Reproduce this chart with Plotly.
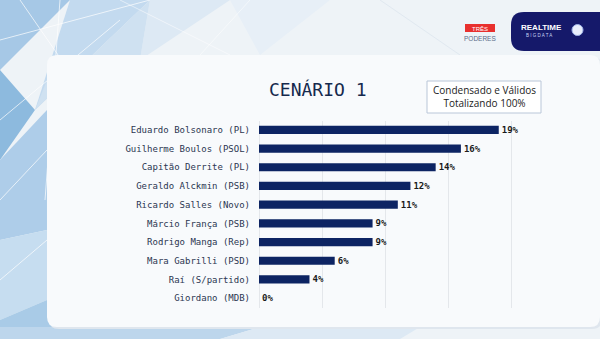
import plotly.graph_objects as go

# Poll results (Cenário 1), condensed, valid votes totalling 100%
candidates = [
    "Eduardo Bolsonaro (PL)",
    "Guilherme Boulos (PSOL)",
    "Capitão Derrite (PL)",
    "Geraldo Alckmin (PSB)",
    "Ricardo Salles (Novo)",
    "Márcio França (PSB)",
    "Rodrigo Manga (Rep)",
    "Mara Gabrilli (PSD)",
    "Raí (S/partido)",
    "Giordano (MDB)",
]
percent = [19, 16, 14, 12, 11, 9, 9, 6, 4, 0]

W, H = 600, 339
NAVY = "#0d2463"
MONO = "DejaVu Sans Mono"


def px(x):
    return x / W


def py(y):
    return 1 - y / H


def poly(points, fill, opacity=1.0):
    d = "M " + " L ".join(f"{px(x):.4f},{py(y):.4f}" for x, y in points) + " Z"
    return dict(type="path", xref="paper", yref="paper", path=d,
                fillcolor=fill, line=dict(width=0), opacity=opacity, layer="below")


def line(x0, y0, x1, y1, color="white", width=1, opacity=0.7):
    return dict(type="line", xref="paper", yref="paper",
                x0=px(x0), y0=py(y0), x1=px(x1), y1=py(y1),
                line=dict(color=color, width=width), opacity=opacity, layer="below")


def rounded_rect(x0, y0, x1, y1, r, fill, corners=(1, 1, 1, 1), line_color=None):
    # corners: top-left, top-right, bottom-right, bottom-left
    tl, tr, br, bl = [r * c for c in corners]
    rx = lambda v: v / W
    ry = lambda v: v / H
    X0, X1 = px(x0), px(x1)
    Y0, Y1 = py(y0), py(y1)  # Y0 is top (larger)
    d = (
        f"M {X0 + rx(tl)},{Y0} L {X1 - rx(tr)},{Y0} Q {X1},{Y0} {X1},{Y0 - ry(tr)} "
        f"L {X1},{Y1 + ry(br)} Q {X1},{Y1} {X1 - rx(br)},{Y1} "
        f"L {X0 + rx(bl)},{Y1} Q {X0},{Y1} {X0},{Y1 + ry(bl)} "
        f"L {X0},{Y0 - ry(tl)} Q {X0},{Y0} {X0 + rx(tl)},{Y0} Z"
    )
    return dict(type="path", xref="paper", yref="paper", path=d, fillcolor=fill,
                line=dict(width=1 if line_color else 0, color=line_color or fill),
                layer="below")


shapes = []
# faceted blue backdrop on the left
shapes += [
    poly([(0, 0), (70, 0), (0, 70)], "#a6c8e6"),
    poly([(70, 0), (150, 0), (35, 110)], "#c3daef"),
    poly([(150, 0), (230, 0), (140, 60)], "#dde9f4"),
    poly([(230, 0), (330, 0), (260, 55)], "#e7eff7"),
    poly([(0, 70), (35, 110), (0, 160)], "#8dbade"),
    poly([(35, 110), (150, 0), (140, 60), (47, 80)], "#cfe1f1"),
    poly([(0, 160), (47, 110), (47, 230), (0, 240)], "#aecde9"),
    poly([(0, 240), (47, 230), (47, 300), (0, 320)], "#c6ddf0"),
    poly([(0, 320), (47, 300), (60, 339), (0, 339)], "#a9cbe7"),
    poly([(0, 327), (260, 327), (220, 339), (0, 339)], "#bdd6ec"),
    poly([(260, 327), (420, 327), (400, 339), (220, 339)], "#dde9f4"),
]
shapes += [
    line(0, 40, 150, 0), line(20, 0, 110, 130), line(0, 120, 120, 20),
    line(60, 0, 45, 200), line(0, 200, 47, 150), line(0, 280, 47, 240),
    line(120, 0, 230, 55, opacity=0.5), line(250, 0, 200, 55, opacity=0.5),
    line(380, 0, 460, 55, color="#d8e2ec", opacity=0.6),
]
# white content panel
shapes.append(rounded_rect(49, 57, 602, 329, 10, "#dfe6ee"))
shapes.append(rounded_rect(47, 55, 600, 327, 10, "#f8fafc"))
# subtitle box
shapes.append(dict(type="rect", xref="paper", yref="paper",
                   x0=px(427), x1=px(541), y0=py(113), y1=py(81),
                   fillcolor="white", line=dict(color="#b9c6d8", width=1)))
# brand badge top-right
shapes.append(rounded_rect(511, 12, 603, 51, 13, "#15196a", corners=(1, 0, 0, 1)))
shapes.append(dict(type="circle", xref="paper", yref="paper",
                   x0=px(572), x1=px(583), y0=py(35.5), y1=py(24.5),
                   fillcolor="#e8eefc", line=dict(color="#9fb3e8", width=1)))
shapes.append(dict(type="rect", xref="paper", yref="paper",
                   x0=px(465), x1=px(495), y0=py(32), y1=py(24),
                   fillcolor="#e8302e", line=dict(width=0)))


def label(x, y, text, font):
    return dict(x=px(x), y=py(y), xref="paper", yref="paper", text=text,
                showarrow=False, xanchor="center", yanchor="middle", font=font)


annotations = [
    label(318, 90, "CENÁRIO 1", dict(family=MONO, size=18, color="#15294d")),
    label(484, 97, "Condensado e Válidos<br>Totalizando 100%",
          dict(family="Open Sans", size=10, color="#222222")),
    label(480, 28, "TRÊS", dict(family="Liberation Sans", size=6, color="white")),
    label(480, 38, "PODERES", dict(family="Liberation Sans", size=6.5, color="#5a6c88")),
    label(541, 27, "<b>REALTIME</b>", dict(family="Liberation Sans", size=8, color="white")),
    label(539, 35, "B I G D A T A", dict(family="Liberation Sans", size=4.5, color="#c8d4f5")),
]

fig = go.Figure(go.Bar(
    x=percent,
    y=candidates,
    orientation="h",
    marker=dict(color=NAVY, line=dict(width=0)),
    text=[f"{v}%" for v in percent],
    textposition="outside",
    constraintext="none",
    textfont=dict(family=MONO, size=9, color="#1a1a1a", weight="bold"),
    cliponaxis=False,
    width=0.44,
))

fig.update_layout(
    width=W, height=H,
    margin=dict(l=0, r=0, t=0, b=0),
    paper_bgcolor="#eef3f7",
    plot_bgcolor="rgba(0,0,0,0)",
    showlegend=False,
    shapes=shapes,
    annotations=annotations,
    xaxis=dict(domain=[px(259), px(524)], range=[0, 21], tickvals=[0, 5, 10, 15, 20],
               showticklabels=False, showgrid=True, gridcolor="#e4e7eb", gridwidth=1,
               zeroline=True, zerolinecolor="#e4e7eb", zerolinewidth=1,
               showline=False, fixedrange=True),
    yaxis=dict(domain=[py(307.5), py(120.5)], categoryorder="array",
               categoryarray=candidates, autorange="reversed",
               tickfont=dict(family=MONO, size=9, color="#2b3651"),
               ticklabelstandoff=8, showgrid=False, zeroline=False, showline=False,
               ticks=""),
)

fig.write_html("out.html")
